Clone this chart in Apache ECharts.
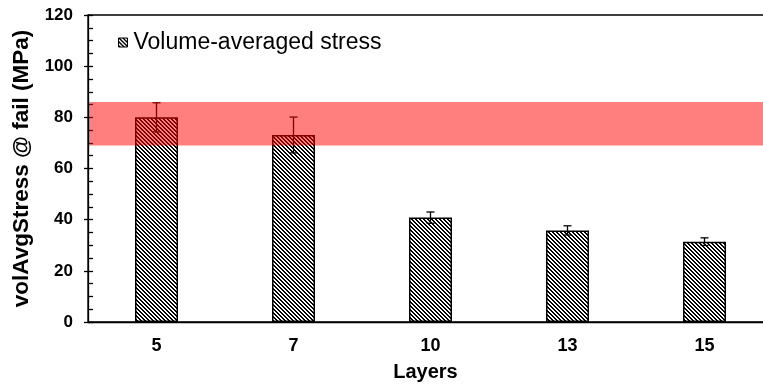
<!DOCTYPE html>
<html>
<head>
<meta charset="utf-8">
<script src="https://cdn.jsdelivr.net/npm/echarts@6/dist/echarts.min.js"></script>
<style>
html,body{margin:0;padding:0;background:#fff;}
#chart{width:763px;height:389px;}
</style>
</head>
<body>
<div id="chart"></div>
<script>
// ---- data ----
var categories = ['5', '7', '10', '13', '15'];
var stressMean = [80.0, 73.1, 40.8, 35.8, 31.4];
var stressErr = [5.7, 7.0, 2.2, 1.8, 1.5];
var bandRange = [69, 86];
var yTicks = [0, 20, 40, 60, 80, 100, 120];

// ---- hatch pattern ----
function makeHatch() {
  var c = document.createElement('canvas');
  c.width = 4; c.height = 4;
  var ctx = c.getContext('2d');
  var img = ctx.createImageData(4, 4);
  for (var y = 0; y < 4; y++) {
    for (var x = 0; x < 4; x++) {
      var k = ((x - y) % 4 + 4) % 4;
      var v = (k === 0 || k === 1) ? 0 : 255;
      var i = (y * 4 + x) * 4;
      img.data[i] = v; img.data[i+1] = v; img.data[i+2] = v; img.data[i+3] = 255;
    }
  }
  ctx.putImageData(img, 0, 0);
  return c;
}
var hatch = { image: makeHatch(), repeat: 'repeat' };

var font = '"Liberation Sans", Arial, sans-serif';
var chart = echarts.init(document.getElementById('chart'), null, { renderer: 'canvas' });

var errData = categories.map(function (c, i) { return [i, stressMean[i], stressErr[i]]; });

chart.setOption({
  animation: false,
  backgroundColor: '#fff',
  grid: {
    left: 88, top: 15, width: 685, height: 307,
    show: true, borderColor: '#000', borderWidth: 1.3,
    outerBoundsMode: 'none', containLabel: false
  },
  legend: {
    left: 118, top: 31, padding: 0,
    icon: 'rect', itemWidth: 9, itemHeight: 9, itemGap: 0,
    textStyle: { fontFamily: font, fontSize: 23, color: '#000', padding: [0, 0, 0, 1] },
    data: [{ name: 'Volume-averaged stress', itemStyle: { color: hatch, borderColor: '#000', borderWidth: 1 } }]
  },
  xAxis: {
    type: 'category', data: categories,
    name: 'Layers', nameLocation: 'middle', nameGap: 40,
    nameTextStyle: { fontFamily: font, fontSize: 20, fontWeight: 'bold', color: '#000', padding: [0, 10, 0, 0] },
    axisLine: { lineStyle: { color: '#000', width: 1.3 } },
    axisTick: { show: false },
    axisLabel: { fontFamily: font, fontSize: 18, fontWeight: 'bold', color: '#000', margin: 15 },
    splitLine: { show: false }
  },
  yAxis: [{
    type: 'value', min: 0, max: 120, interval: 20,
    name: 'volAvgStress @ fail (MPa)', nameLocation: 'middle', nameGap: 51,
    nameTextStyle: { fontFamily: font, fontSize: 22.5, fontWeight: 'bold', color: '#000' },
    axisLine: { show: true, lineStyle: { color: '#000', width: 1.3 } },
    axisTick: { show: true, inside: false, length: 4, lineStyle: { color: '#000', width: 1.3 } },
    axisLabel: {
      fontFamily: font, fontSize: 17, fontWeight: 'bold', color: '#000', margin: 15,
      formatter: function (v) { return yTicks.indexOf(v) >= 0 ? String(v) : ''; }
    },
    splitLine: { show: false }
  }, {
    type: 'value', min: 0, max: 120, interval: 20, position: 'left',
    axisLine: { show: false },
    axisTick: { show: true, inside: true, length: 5, lineStyle: { color: '#000', width: 1.3 } },
    minorTick: { show: true, splitNumber: 4, length: 5, lineStyle: { color: '#000', width: 1.3 } },
    axisLabel: { show: false },
    splitLine: { show: false }
  }],
  series: [{
    name: 'Volume-averaged stress',
    type: 'bar',
    data: stressMean,
    barWidth: 43,
    z: 2,
    itemStyle: { color: hatch, borderColor: '#000', borderWidth: 1.5 }
  }, {
    name: 'err',
    type: 'custom',
    z: 3,
    data: errData,
    renderItem: function (params, api) {
      var x = api.value(0), m = api.value(1), e = api.value(2);
      var top = api.coord([x, m + e]);
      var bot = api.coord([x, m - e]);
      var hw = 4;
      var st = { stroke: '#000', lineWidth: 1.3 };
      return {
        type: 'group',
        children: [
          { type: 'line', shape: { x1: top[0], y1: top[1], x2: bot[0], y2: bot[1] }, style: st },
          { type: 'line', shape: { x1: top[0] - hw, y1: top[1], x2: top[0] + hw, y2: top[1] }, style: st },
          { type: 'line', shape: { x1: bot[0] - hw, y1: bot[1], x2: bot[0] + hw, y2: bot[1] }, style: st }
        ]
      };
    }
  }, {
    name: 'band',
    type: 'custom',
    z: 4,
    data: [[0, bandRange[0], bandRange[1]]],
    renderItem: function (params, api) {
      var cs = params.coordSys;
      var yTop = api.coord([0, api.value(2)])[1];
      var yBot = api.coord([0, api.value(1)])[1];
      return {
        type: 'rect',
        shape: { x: cs.x + 1, y: yTop, width: cs.width, height: yBot - yTop },
        style: { fill: 'rgba(255,0,0,0.5)' }
      };
    }
  }]
});
</script>
</body>
</html>
